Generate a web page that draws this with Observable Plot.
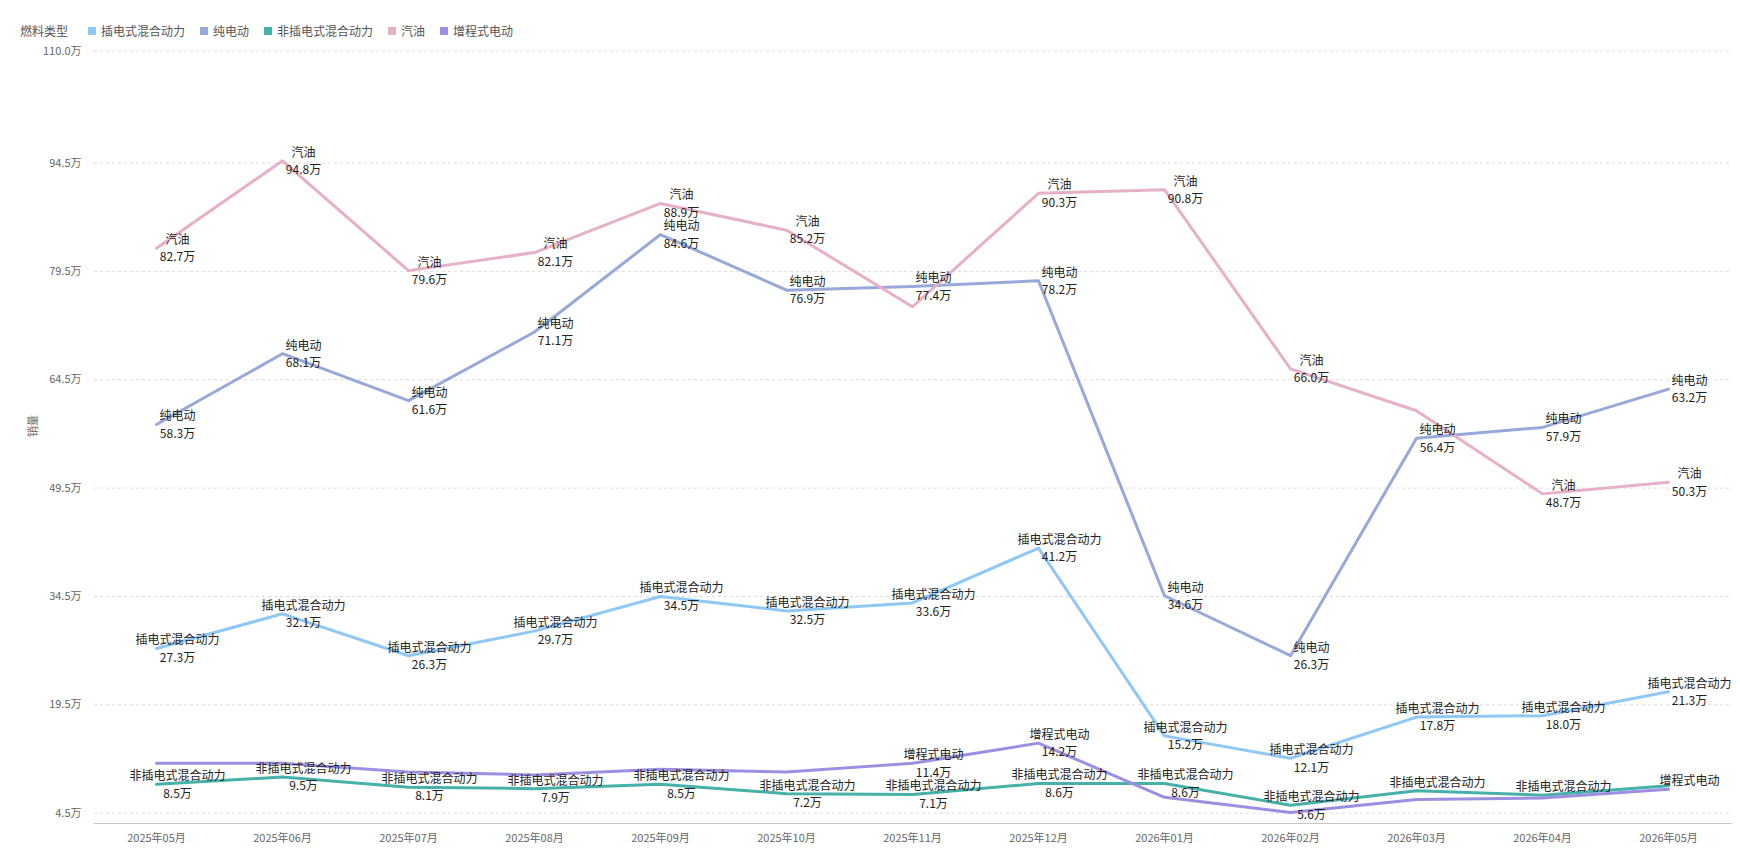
<!DOCTYPE html>
<html>
<head>
<meta charset="utf-8">
<script src="https://cdn.jsdelivr.net/npm/d3@7"></script>
<script src="https://cdn.jsdelivr.net/npm/@observablehq/plot@0.6"></script>
<style>
  html, body { margin: 0; padding: 0; background: #fff; }
  body { width: 1740px; height: 860px; overflow: hidden; font-family: "Noto Sans CJK SC", "Noto Sans", sans-serif; }
  #legend { height: 40px; box-sizing: border-box; padding: 22px 0 0 20px; display: flex; align-items: center; font-size: 12px; color: #555; line-height: 16px; }
  #legend .title { margin-right: 20px; }
  #legend .item { display: flex; align-items: center; margin-right: 15px; }
  #legend .sw { width: 8px; height: 8px; margin-right: 5px; }
  #chart svg { display: block; }
</style>
</head>
<body>
<div id="legend"></div>
<div id="chart"></div>
<script>
// ---- data ----
const months = ["2025年05月","2025年06月","2025年07月","2025年08月","2025年09月","2025年10月","2025年11月","2025年12月","2026年01月","2026年02月","2026年03月","2026年04月","2026年05月"];
const legendTitle = "燃料类型";
const seriesNames = ["插电式混合动力","纯电动","非插电式混合动力","汽油","增程式电动"];
const seriesColors = ["#8fc8f5","#98a8d9","#45b1a9","#e8b0c7","#9c8fe1"];
// sales, 万
const phevSales  = [27.3, 32.1, 26.3, 29.7, 34.5, 32.5, 33.6, 41.2, 15.2, 12.1, 17.8, 18.0, 21.3];
const bevSales   = [58.3, 68.1, 61.6, 71.1, 84.6, 76.9, 77.4, 78.2, 34.6, 26.3, 56.4, 57.9, 63.2];
const hevSales   = [8.5, 9.5, 8.1, 7.9, 8.5, 7.2, 7.1, 8.6, 8.6, 5.6, 7.6, 7.0, 8.3];
const gasSales   = [82.7, 94.8, 79.6, 82.1, 88.9, 85.2, 74.6, 90.3, 90.8, 66.0, 60.2, 48.7, 50.3];
const erevSales  = [11.4, 11.4, 10.2, 9.8, 10.6, 10.2, 11.4, 14.2, 6.7, 4.6, 6.4, 6.6, 7.8];
// which points carry a full label (name + value) and which only the name
const phevLabelIdx = [0,1,2,3,4,5,6,7,8,9,10,11,12];
const bevLabelIdx  = [0,1,2,3,4,5,6,7,8,9,10,11,12];
const hevLabelIdx  = [0,1,2,3,4,5,6,7,8,9];
const gasLabelIdx  = [0,1,2,3,4,5,7,8,9,11,12];
const erevLabelIdx = [6,7];
const nameOnlyLabels = [["非插电式混合动力", 10], ["非插电式混合动力", 11], ["增程式电动", 12]];
const yTicks = [4.5, 19.5, 34.5, 49.5, 64.5, 79.5, 94.5, 110.0];
const yTitle = "销量";

// ---- tables ----
const seriesValues = [phevSales, bevSales, hevSales, gasSales, erevSales];
const seriesLabelIdx = [phevLabelIdx, bevLabelIdx, hevLabelIdx, gasLabelIdx, erevLabelIdx];
const rows = [];
seriesNames.forEach((s, k) => seriesValues[k].forEach((v, i) => rows.push({series: s, month: months[i], value: v})));
const labelRows = [];
seriesNames.forEach((s, k) => seriesLabelIdx[k].forEach(i => labelRows.push({series: s, month: months[i], value: seriesValues[k][i], text: s + "\n" + seriesValues[k][i].toFixed(1) + "万"})));
nameOnlyLabels.forEach(([s, i]) => {
  const k = seriesNames.indexOf(s);
  labelRows.push({series: s, month: months[i], value: seriesValues[k][i], text: s + "\n "});
});

// ---- legend ----
const legend = document.getElementById("legend");
const t = document.createElement("span"); t.className = "title"; t.textContent = legendTitle; legend.appendChild(t);
seriesNames.forEach((s, k) => {
  const it = document.createElement("span"); it.className = "item";
  const sw = document.createElement("span"); sw.className = "sw"; sw.style.background = seriesColors[k];
  const tx = document.createElement("span"); tx.textContent = s;
  it.appendChild(sw); it.appendChild(tx); legend.appendChild(it);
});

// ---- chart ----
const chart = Plot.plot({
  width: 1740,
  height: 820,
  marginTop: 10,
  marginBottom: 37,
  marginLeft: 94,
  marginRight: 9,
  style: {fontFamily: "'Noto Sans CJK SC', 'Noto Sans', sans-serif", fontSize: "11px", color: "#666", background: "#fff"},
  x: {type: "point", domain: months, range: [155, 1668], padding: 0, label: null},
  y: {domain: [4.5, 110], range: [772.7, 10.5], label: null},
  color: {domain: seriesNames, range: seriesColors},
  marks: [
    Plot.gridY(yTicks, {stroke: "#dcdcdc", strokeOpacity: 1, strokeDasharray: "3,3"}),
    Plot.frame({anchor: "bottom", stroke: "#c8c8c8"}),
    Plot.axisY(yTicks, {tickSize: 0, tickPadding: 13, tickFormat: d => d.toFixed(1) + "万", label: null, fill: "#666"}),
    Plot.axisX({tickSize: 0, tickPadding: 11, label: null, fill: "#666"}),
    Plot.text([yTitle], {frameAnchor: "left", dx: -61, rotate: -90, fill: "#666", fontSize: 11}),
    Plot.line(rows, {x: "month", y: "value", z: "series", stroke: "series", strokeWidth: 3}),
    Plot.text(labelRows, {x: "month", y: "value", text: "text", dx: 21, dy: -1, lineHeight: 1.45, fill: "#222", fontSize: 12})
  ]
});
document.getElementById("chart").appendChild(chart);
</script>
</body>
</html>
